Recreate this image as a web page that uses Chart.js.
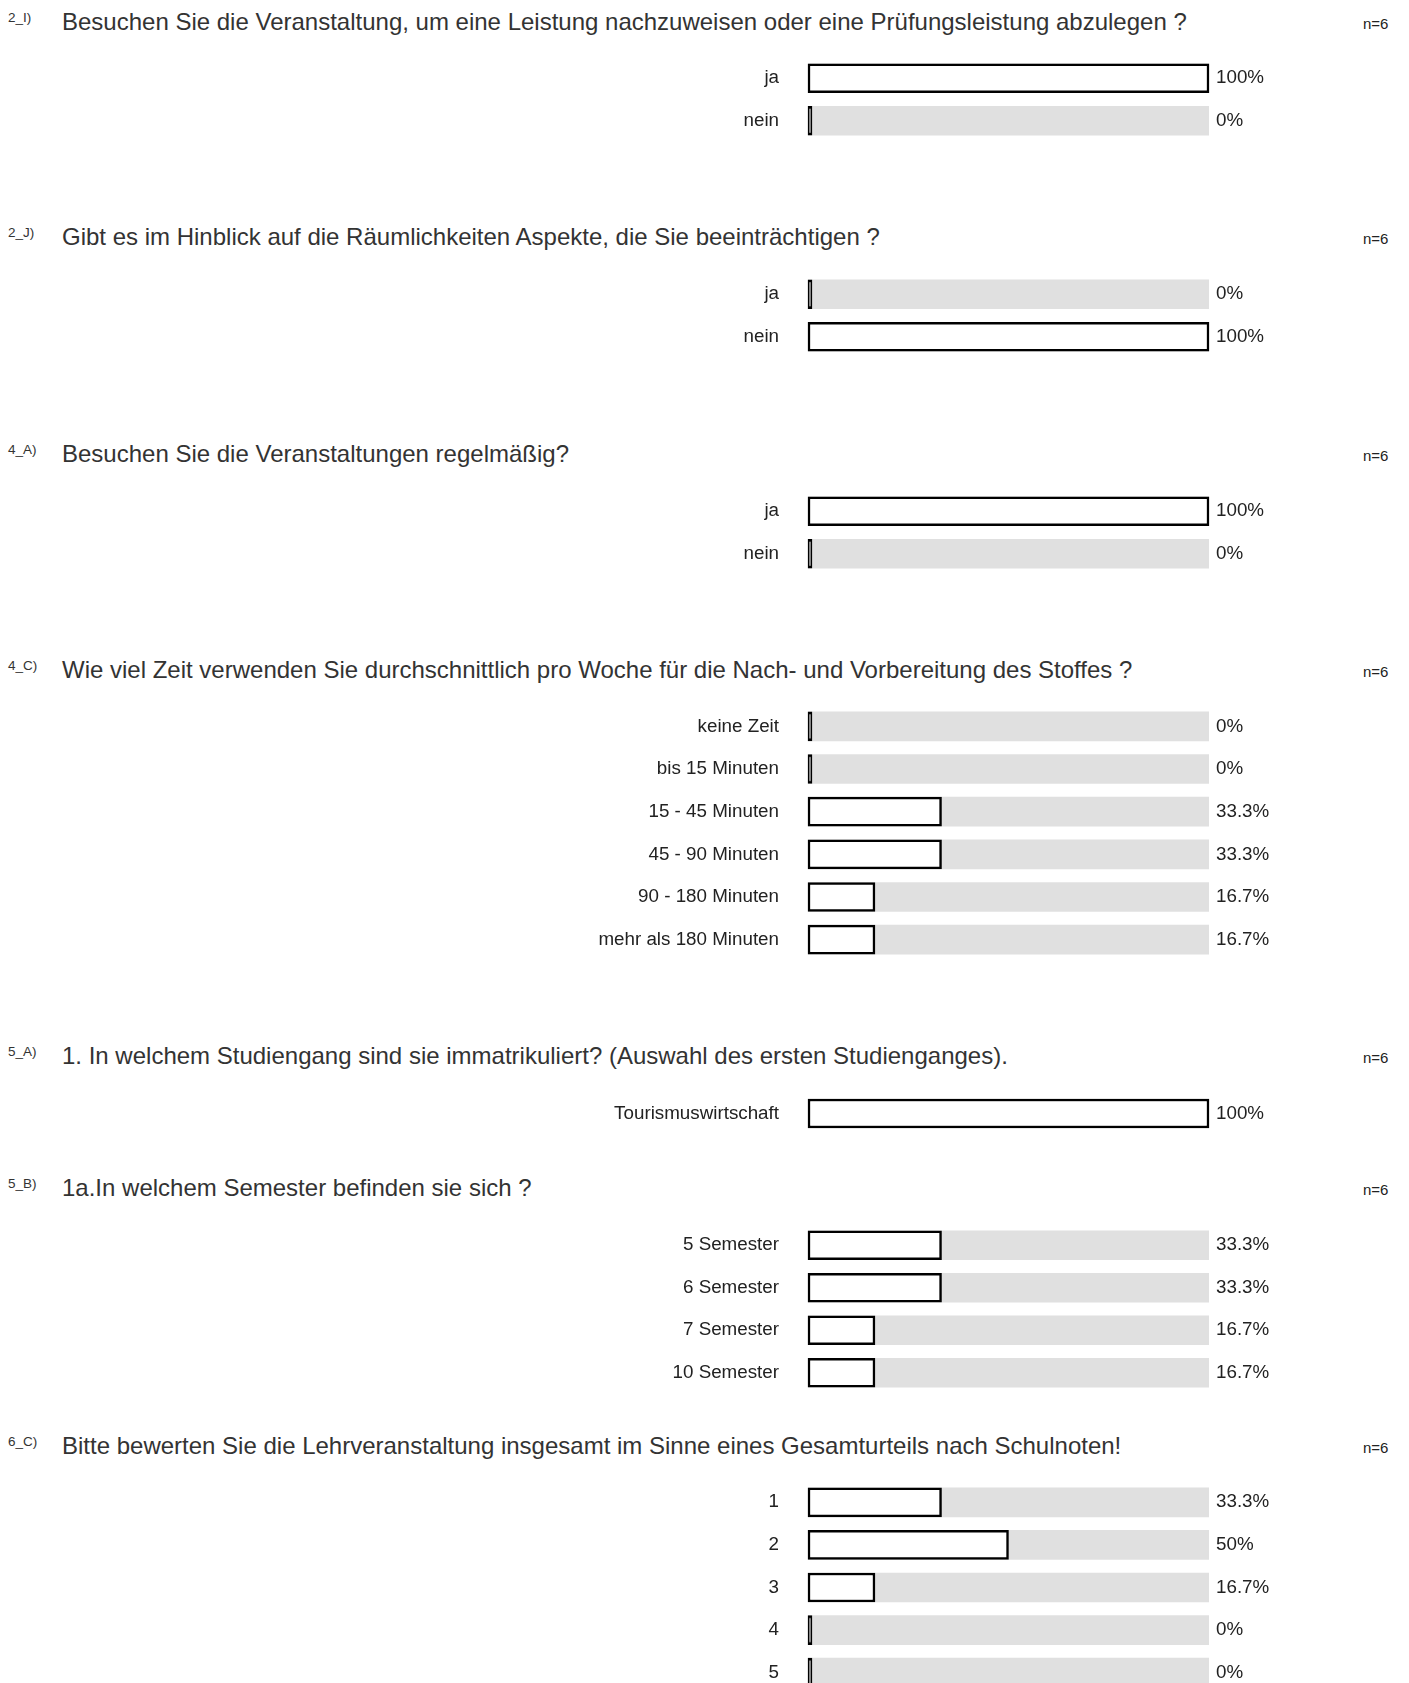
<!DOCTYPE html>
<html>
<head>
<meta charset="utf-8">
<script src="https://cdn.jsdelivr.net/npm/chart.js@4.4.1/dist/chart.umd.min.js"></script>
<style>
  html, body { margin: 0; padding: 0; background: #fff; overflow: hidden; }
  body { width: 1409px; height: 1683px; position: relative; font-family: "Liberation Sans", Arial, sans-serif; }
  .code { position: absolute; left: 8px; font-size: 13.5px; line-height: 14px; color: #333; }
  .question { position: absolute; left: 62px; font-size: 24px; line-height: 28px; color: #333; white-space: nowrap; }
  .count { position: absolute; left: 1363px; font-size: 15px; line-height: 15px; color: #222; }
  canvas { position: absolute; left: 0; }
</style>
</head>
<body>
<script>
// question codes and texts
const codes = ['2_I)', '2_J)', '4_A)', '4_C)', '5_A)', '5_B)', '6_C)'];
const questions = [
  'Besuchen Sie die Veranstaltung, um eine Leistung nachzuweisen oder eine Prüfungsleistung abzulegen ?',
  'Gibt es im Hinblick auf die Räumlichkeiten Aspekte, die Sie beeinträchtigen ?',
  'Besuchen Sie die Veranstaltungen regelmäßig?',
  'Wie viel Zeit verwenden Sie durchschnittlich pro Woche für die Nach- und Vorbereitung des Stoffes ?',
  '1. In welchem Studiengang sind sie immatrikuliert? (Auswahl des ersten Studienganges).',
  '1a.In welchem Semester befinden sie sich ?',
  'Bitte bewerten Sie die Lehrveranstaltung insgesamt im Sinne eines Gesamturteils nach Schulnoten!'
];
const counts = ['n=6', 'n=6', 'n=6', 'n=6', 'n=6', 'n=6', 'n=6'];

// answer categories per question
const cats2I = ['ja', 'nein'];
const cats2J = ['ja', 'nein'];
const cats4A = ['ja', 'nein'];
const cats4C = ['keine Zeit', 'bis 15 Minuten', '15 - 45 Minuten', '45 - 90 Minuten', '90 - 180 Minuten', 'mehr als 180 Minuten'];
const cats5A = ['Tourismuswirtschaft'];
const cats5B = ['5 Semester', '6 Semester', '7 Semester', '10 Semester'];
const cats6C = ['1', '2', '3', '4', '5'];

// percentages
const vals2I = [100, 0];
const vals2J = [0, 100];
const vals4A = [100, 0];
const vals4C = [0, 0, 33.3, 33.3, 16.7, 16.7];
const vals5A = [100];
const vals5B = [33.3, 33.3, 16.7, 16.7];
const vals6C = [33.3, 50, 16.7, 0, 0];

const allCats = [cats2I, cats2J, cats4A, cats4C, cats5A, cats5B, cats6C];
const allVals = [vals2I, vals2J, vals4A, vals4C, vals5A, vals5B, vals6C];

// layout: vertical centre of each question line
const titleY = [21.5, 237.2, 453.9, 669.6, 1056, 1187.9, 1445.5];
const rowPitch = 42.6;
const firstRowGap = 57;

function addText(cls, text, top) {
  const d = document.createElement('div');
  d.className = cls;
  d.textContent = text;
  d.style.top = top + 'px';
  document.body.appendChild(d);
}

// vertical scales add tick padding above/below; drop it so rows fill the canvas
function fixWidth(w) {
  return s => { s.width = w; s.paddingTop = 0; s.paddingBottom = 0; };
}

for (let i = 0; i < questions.length; i++) {
  const ty = titleY[i];
  addText('code', codes[i], ty - 11);
  addText('question', questions[i], ty - 14);
  addText('count', counts[i], ty - 6);

  const cats = allCats[i];
  const vals = allVals[i];
  const pct = vals.map(v => v + '%');

  const cv = document.createElement('canvas');
  const h = Math.round(cats.length * rowPitch);
  cv.width = 1409;
  cv.height = h;
  cv.style.width = '1409px';
  cv.style.height = h + 'px';
  cv.style.top = Math.round(ty + firstRowGap - rowPitch / 2) + 'px';
  document.body.appendChild(cv);

  new Chart(cv, {
    type: 'bar',
    data: {
      labels: cats,
      datasets: [{
        data: vals,
        backgroundColor: '#ffffff',
        borderColor: '#000000',
        borderWidth: 2.5,
        borderSkipped: false,
        minBarLength: 4,
        barThickness: 29,
        grouped: false,
        clip: false,
        order: 0
      }, {
        data: cats.map(() => 100),
        backgroundColor: '#e0e0e0',
        borderWidth: 0,
        barThickness: 29,
        grouped: false,
        order: 1
      }]
    },
    options: {
      indexAxis: 'y',
      responsive: false,
      animation: false,
      devicePixelRatio: 1,
      layout: { padding: 0 },
      plugins: { legend: { display: false }, tooltip: { enabled: false } },
      scales: {
        x: { display: false, min: 0, max: 100 },
        y: {
          position: 'left',
          offset: true,
          grid: { display: false, drawTicks: false },
          border: { display: false },
          ticks: { padding: 29, color: '#222', font: { family: 'Liberation Sans', size: 18.8 } },
          afterFit: fixWidth(808)
        },
        y2: {
          type: 'category',
          position: 'right',
          labels: pct,
          offset: true,
          grid: { display: false, drawTicks: false },
          border: { display: false },
          ticks: { padding: 7, color: '#222', font: { family: 'Liberation Sans', size: 18.8 } },
          afterFit: fixWidth(200)
        }
      }
    }
  });
}
</script>
</body>
</html>
